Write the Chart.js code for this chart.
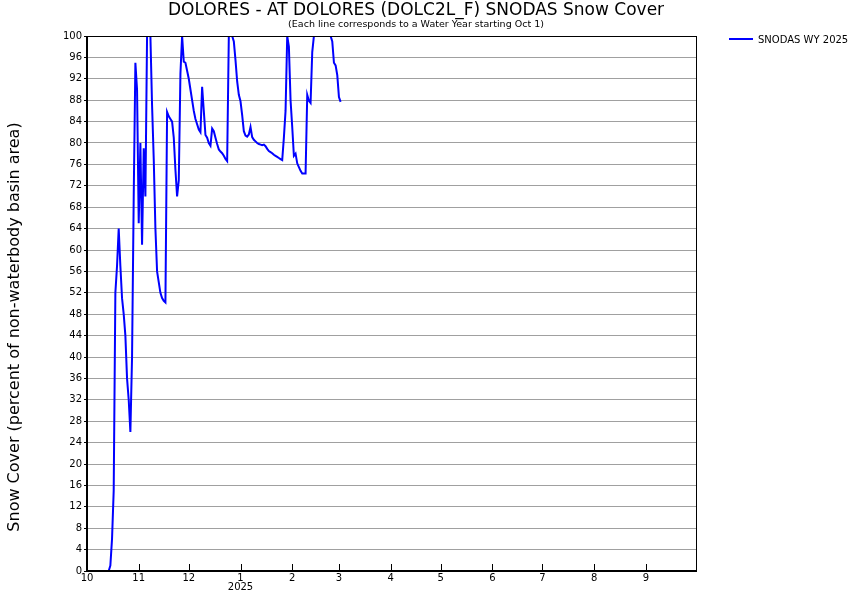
<!DOCTYPE html>
<html>
<head>
<meta charset="utf-8">
<script src="https://cdn.jsdelivr.net/npm/chart.js@4.4.1/dist/chart.umd.min.js"></script>
<style>
  html, body { margin: 0; padding: 0; background: #fff; }
</style>
</head>
<body>
<canvas id="snowChart" width="850" height="600"></canvas>
<script>
const titleText = 'DOLORES - AT DOLORES (DOLC2L_F) SNODAS Snow Cover';
const subtitleText = '(Each line corresponds to a Water Year starting Oct 1)';
const yTitleText = 'Snow Cover (percent of non-waterbody basin area)';
const seriesLabel = 'SNODAS WY 2025';

// day offsets from Oct 1 for each month start, and the labels shown there
const monthDays = [0, 31, 61, 92, 123, 151, 182, 212, 243, 273, 304, 335];
const monthLabels = ['10', '11', '12', ['1', '2025'], '2', '3', '4', '5', '6', '7', '8', '9'];

// daily snow cover (%), one value per day starting Oct 1 2024
const snowCover = [
  0, 0, 0, 0, 0, 0, 0, 0, 0, 0, 0, 0, 0, 0,
  1, 6, 15, 52, 57, 64, 57, 51, 48, 44, 36, 32, 26, 40, 70, 95,
  90, 65, 80, 61, 79, 70, 100, 100, 100, 87, 77, 64, 56, 54, 52, 51,
  50.5, 50.2, 85.8, 85, 84.5, 84, 81, 75, 70, 73, 93, 100, 95.2, 95,
  93.5, 92, 90, 88, 86, 84.5, 83.5, 82.5, 82, 90.5, 86, 81.5, 81, 80,
  79.5, 82.7, 82.2, 81, 79.8, 78.8, 78.4, 78.1, 77.6, 77, 76.6, 100, 100, 100,
  99, 95.5, 91.5, 89, 87.8, 85.2, 82.2, 81.4, 81.2, 81.6, 83, 81.1, 80.6, 80.3,
  80, 79.8, 79.7, 79.6, 79.7, 79.4, 78.9, 78.5, 78.3, 78.1, 77.8, 77.6, 77.4, 77.2,
  77, 76.8, 81, 86, 100, 98, 88, 83, 77.6, 78, 76.2, 75.5, 74.8, 74.3,
  74.3, 74.3, 89, 87.9, 87.5, 97, 100, 100, 100, 100, 100, 100, 100, 100,
  100, 100, 100, 99, 95, 94.5, 92.7, 88.6, 87.7
];

const FONT = "'DejaVu Sans', sans-serif";

// titles, legend, frame and inward x tick marks
const decor = {
  id: 'decor',
  afterDraw(chart) {
    const { ctx, chartArea: a, scales: { x } } = chart;
    ctx.save();
    ctx.strokeStyle = '#000';
    ctx.lineWidth = 1;
    ctx.beginPath();
    monthDays.slice(1).forEach(d => {
      const px = Math.round(x.getPixelForValue(d)) + 0.5;
      ctx.moveTo(px, a.bottom);
      ctx.lineTo(px, a.bottom - 7);
    });
    ctx.stroke();
    ctx.strokeRect(Math.round(a.left) - 0.5, Math.round(a.top) + 0.5,
      Math.round(a.right - a.left) + 1, Math.round(a.bottom - a.top) - 1);

    ctx.fillStyle = '#000';
    ctx.textAlign = 'center';
    ctx.textBaseline = 'middle';
    ctx.font = '17px ' + FONT;
    ctx.fillText(titleText, 416, 11);
    ctx.font = '9.5px ' + FONT;
    ctx.fillText(subtitleText, 416, 25);

    ctx.save();
    ctx.translate(15, 327);
    ctx.rotate(-Math.PI / 2);
    ctx.font = '16px ' + FONT;
    ctx.fillText(yTitleText, 0, 0);
    ctx.restore();

    const ds = chart.data.datasets[0];
    ctx.strokeStyle = ds.borderColor;
    ctx.lineWidth = 2;
    ctx.beginPath();
    ctx.moveTo(729, 39);
    ctx.lineTo(753, 39);
    ctx.stroke();
    ctx.textAlign = 'left';
    ctx.font = '10px ' + FONT;
    ctx.fillText(ds.label, 758, 40);
    ctx.restore();
  }
};

new Chart(document.getElementById('snowChart'), {
  type: 'line',
  data: {
    datasets: [{
      label: seriesLabel,
      data: snowCover.map((v, i) => ({ x: i, y: v })),
      borderColor: '#0000ff',
      borderWidth: 2,
      pointRadius: 0,
      tension: 0,
      fill: false
    }]
  },
  options: {
    responsive: false,
    animation: false,
    devicePixelRatio: 1,
    layout: { padding: { top: 36, right: 154, bottom: 0, left: 0 } },
    scales: {
      x: {
        type: 'linear',
        min: 0,
        max: 365,
        afterFit: s => { s.height = 29; },
        afterBuildTicks: s => { s.ticks = monthDays.map(v => ({ value: v })); },
        grid: { display: true, drawOnChartArea: false, drawTicks: false },
        border: { color: '#000' },
        ticks: {
          autoSkip: false,
          maxRotation: 0,
          padding: 3,
          color: '#000',
          font: { family: FONT, size: 10, lineHeight: 0.9 },
          callback: (v, i) => monthLabels[i]
        }
      },
      y: {
        min: 0,
        max: 100,
        afterFit: s => { s.width = 87; },
        grid: { color: '#a0a0a0', tickColor: '#000', tickLength: 3 },
        border: { color: '#000' },
        ticks: {
          stepSize: 4,
          padding: 2,
          color: '#000',
          font: { family: FONT, size: 10 }
        }
      }
    },
    plugins: {
      legend: { display: false },
      title: { display: false },
      tooltip: { enabled: false }
    }
  },
  plugins: [decor]
});
</script>
</body>
</html>
